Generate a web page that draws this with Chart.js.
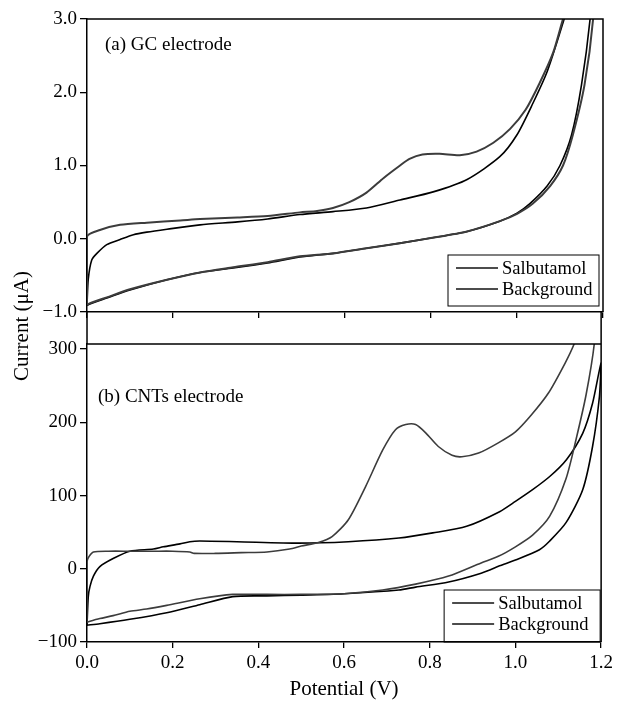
<!DOCTYPE html>
<html><head><meta charset="utf-8">
<script src="https://cdn.jsdelivr.net/npm/chart.js@4.4.1/dist/chart.umd.min.js"></script>
<style>
html,body{margin:0;padding:0;background:#fff;}
#wrap{position:relative;width:617px;height:703px;}
canvas{position:absolute;left:0;top:0;}
</style></head><body>
<div id="wrap"><canvas id="ca" width="617" height="703"></canvas><canvas id="cb" width="617" height="703"></canvas></div>
<script>
// ---------- DATA ----------
const seriesNames = ['Salbutamol', 'Background'];
const panelTitles = ['(a) GC electrode', '(b) CNTs electrode'];
const xTitle = 'Potential (V)';
const yTitle = 'Current (\u03BCA)';
const xTicks = [0, 0.2, 0.4, 0.6, 0.8, 1.0, 1.2];
const gcTicks = [-1, 0, 1, 2, 3];
const cntTicks = [-100, 0, 100, 200, 300];

// (a) GC electrode, Salbutamol: forward scan then reverse scan
const gcSalbFwdV = [0, 0, 0.03, 0.077, 0.139, 0.217, 0.263, 0.35, 0.42, 0.495, 0.535, 0.572, 0.61, 0.65, 0.69, 0.728, 0.75, 0.78, 0.82, 0.867, 0.906, 0.945, 0.984, 1.02, 1.053, 1.084, 1.107, 1.14, 1.2];
const gcSalbFwdI = [-0.9, 0.03, 0.12, 0.19, 0.22, 0.25, 0.27, 0.29, 0.31, 0.36, 0.38, 0.42, 0.5, 0.63, 0.83, 1.0, 1.09, 1.15, 1.16, 1.14, 1.19, 1.31, 1.5, 1.76, 2.13, 2.54, 3.0, 3.6, 5.0];
const gcSalbRevV = [1.177, 1.157, 1.13, 1.107, 1.077, 1.037, 1.0, 0.96, 0.884, 0.8, 0.728, 0.65, 0.572, 0.495, 0.42, 0.34, 0.263, 0.186, 0.1, 0.046, 0.007, 0];
const gcSalbRevI = [3.0, 2.1, 1.42, 1.0, 0.72, 0.48, 0.34, 0.24, 0.1, 0.01, -0.06, -0.13, -0.2, -0.24, -0.32, -0.39, -0.46, -0.56, -0.69, -0.8, -0.88, -0.9];
// (a) GC electrode, Background
const gcBgFwdV = [0, 0.003, 0.011, 0.023, 0.046, 0.077, 0.108, 0.139, 0.186, 0.263, 0.35, 0.42, 0.495, 0.572, 0.65, 0.728, 0.805, 0.884, 0.96, 1.0, 1.037, 1.07, 1.107, 1.14, 1.2];
const gcBgFwdI = [-0.9, -0.55, -0.29, -0.2, -0.08, -0.01, 0.055, 0.09, 0.13, 0.19, 0.23, 0.27, 0.33, 0.37, 0.42, 0.53, 0.64, 0.81, 1.12, 1.42, 1.85, 2.28, 2.95, 3.6, 5.0];
const gcBgRevV = [1.17, 1.15, 1.127, 1.1, 1.07, 1.03, 1.0, 0.96, 0.884, 0.8, 0.728, 0.65, 0.572, 0.495, 0.42, 0.34, 0.263, 0.186, 0.1, 0.046, 0.007, 0];
const gcBgRevI = [3.0, 2.1, 1.42, 1.0, 0.72, 0.48, 0.35, 0.24, 0.1, 0.01, -0.06, -0.13, -0.2, -0.25, -0.33, -0.4, -0.46, -0.56, -0.7, -0.81, -0.89, -0.91];

// (b) CNTs electrode, Salbutamol
const cntSalbFwdV = [0, 0, 0.005, 0.015, 0.05, 0.1, 0.155, 0.2, 0.24, 0.25, 0.3, 0.36, 0.42, 0.473, 0.5, 0.54, 0.572, 0.61, 0.65, 0.69, 0.72, 0.744, 0.767, 0.79, 0.82, 0.852, 0.875, 0.914, 0.96, 1.0, 1.037, 1.077, 1.116, 1.137, 1.16, 1.2];
const cntSalbFwdI = [-73, 10, 17, 23, 24, 24, 24, 24, 23, 21, 21, 22, 23, 27, 31, 36, 44, 67, 112, 162, 190, 197, 197, 186, 167, 155, 153, 158, 172, 187, 210, 240, 281, 307, 345, 420];
const cntSalbRevV = [1.184, 1.165, 1.142, 1.118, 1.08, 1.04, 1.0, 0.96, 0.92, 0.844, 0.767, 0.69, 0.6, 0.5, 0.42, 0.34, 0.263, 0.186, 0.139, 0.1, 0.061, 0.03, 0.005, 0];
const cntSalbRevI = [307, 238, 178, 123, 72, 46, 30, 17, 8, -10, -21, -29, -34, -35, -35, -35, -41, -50, -55, -58, -64, -68, -72, -73];
// (b) CNTs electrode, Background
const cntBgFwdV = [0, 0.003, 0.007, 0.015, 0.03, 0.061, 0.1, 0.155, 0.178, 0.217, 0.24, 0.263, 0.35, 0.495, 0.61, 0.728, 0.807, 0.886, 0.963, 1.0, 1.04, 1.08, 1.119, 1.157, 1.18, 1.2];
const cntBgFwdI = [-77, -38, -24, -10, 3, 14, 24, 27, 30, 34, 37, 38, 37, 35, 37, 42, 49, 58, 78, 92, 108, 126, 149, 185, 226, 281];
const cntBgRevV = [1.196, 1.18, 1.157, 1.118, 1.08, 1.056, 1.0, 0.963, 0.92, 0.844, 0.767, 0.728, 0.6, 0.5, 0.42, 0.34, 0.263, 0.186, 0.1, 0.03, 0];
const cntBgRevI = [235, 167, 108, 63, 38, 26, 12, 4, -6, -18, -25, -29, -34, -36, -37, -38, -49, -60, -69, -75, -77];

// ---------- LAYOUT / STYLE ----------
const W = 617, H = 703;
const LEFT = 87, RIGHT = 603;
const A_TOP = 19, A_BOTTOM = 312, B_TOP = 344, B_BOTTOM = 642;
const SERIF = '"Liberation Serif", "Times New Roman", serif';
const salbColor = '#3c3c3c', bgColor = '#000';

function pts(v1, i1, v2, i2) {
  const a = v1.map((v, k) => ({x: v, y: i1[k]}));
  const b = v2.map((v, k) => ({x: v, y: i2[k]}));
  return a.concat(b);
}
function fmtMinus(s) { return s.replace('-', '\u2212'); }

const framePlugin = {
  id: 'frame',
  afterDatasetsDraw(chart, args, opts) {
    const {ctx, chartArea: ca} = chart;
    ctx.save();
    ctx.strokeStyle = '#000';
    ctx.lineWidth = 1.5;
    ctx.beginPath();
    ctx.moveTo(ca.left, ca.top); ctx.lineTo(ca.right, ca.top); ctx.lineTo(ca.right, ca.bottom);
    if (opts.gapTop !== undefined) {
      ctx.moveTo(ca.left, opts.gapTop); ctx.lineTo(ca.left, ca.top);
      ctx.moveTo(ca.right, opts.gapTop); ctx.lineTo(ca.right, ca.top);
    }
    ctx.stroke();
    ctx.restore();
  }
};

const boxLegendPlugin = {
  id: 'boxLegend',
  afterDraw(chart, args, opts) {
    const {ctx, chartArea: ca} = chart;
    const bw = opts.width, bh = opts.height;
    const x0 = ca.right - opts.rightGap - bw, y0 = ca.bottom - opts.bottomGap - bh;
    ctx.save();
    ctx.strokeStyle = '#000'; ctx.lineWidth = 1;
    ctx.strokeRect(x0, y0, bw, bh);
    ctx.font = '18.5px ' + SERIF;
    ctx.fillStyle = '#000';
    ctx.textBaseline = 'middle';
    chart.data.datasets.forEach((ds, k) => {
      const y = y0 + 13 + k * 21;
      ctx.strokeStyle = '#111'; ctx.lineWidth = 1.3;
      ctx.beginPath(); ctx.moveTo(x0 + 8, y); ctx.lineTo(x0 + 50, y); ctx.stroke();
      ctx.fillText(ds.label, x0 + 54, y + 1);
    });
    ctx.restore();
  }
};

const panelLabelPlugin = {
  id: 'panelLabel',
  afterDraw(chart, args, opts) {
    const {ctx, chartArea: ca} = chart;
    ctx.save();
    ctx.font = '19px ' + SERIF;
    ctx.fillStyle = '#000';
    ctx.textBaseline = 'middle';
    ctx.fillText(opts.text, ca.left + opts.dx, ca.top + opts.dy);
    if (opts.yTitle) {
      ctx.translate(opts.yTitleX, opts.yTitleY);
      ctx.rotate(-Math.PI / 2);
      ctx.font = '21px ' + SERIF;
      ctx.textAlign = 'center';
      ctx.fillText(opts.yTitle, 0, 0);
    }
    ctx.restore();
  }
};

function xScale(showLabels) {
  return {
    type: 'linear', min: 0, max: 1.2,
    afterBuildTicks: s => { s.ticks = xTicks.map(v => ({value: v})); },
    afterFit: s => { s.height = showLabels ? (H - B_BOTTOM) : 18; },
    ticks: {display: showLabels, color: '#000', font: {family: SERIF, size: 19}, padding: 4,
            maxRotation: 0, callback: v => Number(v).toFixed(1)},
    grid: {display: true, drawOnChartArea: false, drawTicks: true, tickLength: 6, color: '#000', lineWidth: 1.3},
    border: {display: true, color: '#000', width: 1.5},
    title: {display: showLabels, text: xTitle, color: '#000', font: {family: SERIF, size: 21}, padding: {top: 0, bottom: 1}}
  };
}
function yScale(min, max, tickVals, fmt) {
  return {
    type: 'linear', min: min, max: max,
    afterBuildTicks: s => { s.ticks = tickVals.map(v => ({value: v})); },
    afterFit: s => { s.width = LEFT; },
    ticks: {color: '#000', font: {family: SERIF, size: 19}, padding: 3, callback: fmt},
    grid: {display: true, drawOnChartArea: false, drawTicks: true, tickLength: 7, color: '#000', lineWidth: 1.3},
    border: {display: true, color: '#000', width: 1.5}
  };
}
function ds(label, data, color, width) {
  return {label, data, showLine: true, borderColor: color, backgroundColor: color,
          borderWidth: width, pointRadius: 0, tension: 0.25, fill: false};
}

const common = {
  responsive: false, animation: false, events: [],
  plugins: {legend: {display: false}, tooltip: {enabled: false}}
};

new Chart(document.getElementById('ca'), {
  type: 'scatter',
  data: {datasets: [
    ds(seriesNames[0], pts(gcSalbFwdV, gcSalbFwdI, gcSalbRevV, gcSalbRevI), salbColor, 2),
    ds(seriesNames[1], pts(gcBgFwdV, gcBgFwdI, gcBgRevV, gcBgRevI), bgColor, 1.6)
  ]},
  options: Object.assign({}, common, {
    layout: {padding: {top: A_TOP, left: 0, right: W - RIGHT, bottom: H - A_BOTTOM - 18}},
    scales: {x: xScale(false), y: yScale(-1, 3, gcTicks, v => fmtMinus(Number(v).toFixed(1)))},
    plugins: Object.assign({}, common.plugins, {
      frame: {},
      boxLegend: {width: 151, height: 51, rightGap: 4, bottomGap: 6},
      panelLabel: {text: panelTitles[0], dx: 18, dy: 26, yTitle: yTitle, yTitleX: 22, yTitleY: 326}
    })
  }),
  plugins: [framePlugin, boxLegendPlugin, panelLabelPlugin]
});

new Chart(document.getElementById('cb'), {
  type: 'scatter',
  data: {datasets: [
    ds(seriesNames[0], pts(cntSalbFwdV, cntSalbFwdI, cntSalbRevV, cntSalbRevI), salbColor, 1.6),
    ds(seriesNames[1], pts(cntBgFwdV, cntBgFwdI, cntBgRevV, cntBgRevI), bgColor, 1.6)
  ]},
  options: Object.assign({}, common, {
    layout: {padding: {top: B_TOP, left: 0, right: W - RIGHT, bottom: 0}},
    scales: {x: xScale(true), y: yScale(-100, 307, cntTicks, v => fmtMinus(String(v)))},
    plugins: Object.assign({}, common.plugins, {
      frame: {gapTop: A_BOTTOM},
      boxLegend: {width: 156, height: 52, rightGap: 1, bottomGap: 0},
      panelLabel: {text: panelTitles[1], dx: 11, dy: 53}
    })
  }),
  plugins: [framePlugin, boxLegendPlugin, panelLabelPlugin]
});
</script>
</body></html>
